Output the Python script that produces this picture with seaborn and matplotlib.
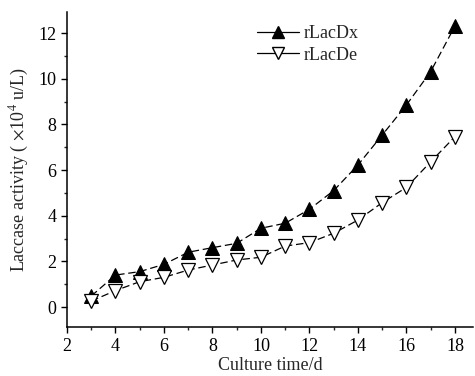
import matplotlib
matplotlib.use("Agg")
import matplotlib.pyplot as plt
from matplotlib.lines import Line2D
from matplotlib.ticker import MultipleLocator
import seaborn as sns

# culture time (days) and laccase activity (x10^4 u/L)
days = [3, 4, 5, 6, 7, 8, 9, 10, 11, 12, 13, 14, 15, 16, 17, 18]
lacdx = [0.48, 1.40, 1.55, 1.87, 2.40, 2.60, 2.79, 3.45, 3.67, 4.28, 5.10, 6.22, 7.53, 8.85, 10.31, 12.30]
lacde = [0.26, 0.72, 1.11, 1.30, 1.62, 1.84, 2.06, 2.18, 2.67, 2.82, 3.23, 3.81, 4.57, 5.24, 6.36, 7.46]
series_names = ["rLacDx", "rLacDe"]

sns.set_style("ticks")
plt.rcParams["font.family"] = ["Liberation Serif", "DejaVu Serif"]
plt.rcParams["mathtext.fontset"] = "stix"
plt.rcParams["font.size"] = 13

fig = plt.figure(figsize=(4.75, 3.76), dpi=100)
ax = fig.add_axes([0.141, 0.130, 0.855, 0.838])

sns.lineplot(x=days, y=lacdx, ax=ax, color="black", linestyle=(0, (6, 3)), linewidth=0.9,
             marker="^", markersize=10, markerfacecolor="black", markeredgecolor="black")
sns.lineplot(x=days, y=lacde, ax=ax, color="black", linestyle=(0, (6, 3)), linewidth=0.9,
             marker="v", markersize=10, markerfacecolor="white", markeredgecolor="black",
             markeredgewidth=0.9)

ax.set_xlim(2, 18.75)
ax.set_ylim(-0.88, 12.92)
ax.xaxis.set_major_locator(MultipleLocator(2))
ax.xaxis.set_minor_locator(MultipleLocator(1))
ax.yaxis.set_major_locator(MultipleLocator(2))
ax.yaxis.set_minor_locator(MultipleLocator(1))
ax.tick_params(which="major", length=4, width=1, labelsize=13, colors="black")
ax.tick_params(which="minor", length=2.5, width=1)
for side in ["top", "right"]:
    ax.spines[side].set_visible(False)
for side in ["left", "bottom"]:
    ax.spines[side].set_linewidth(1.1)
    ax.spines[side].set_color("black")

ax.set_xlabel("Culture time/d", fontsize=13, labelpad=2)
ax.set_ylabel(r"Laccase activity ( $\times$10$^{4}$ u/L)", fontsize=13, labelpad=5)

handles = [
    Line2D([], [], color="black", linewidth=0.9, marker="^", markersize=8,
           markerfacecolor="black", markeredgecolor="black"),
    Line2D([], [], color="black", linewidth=0.9, marker="v", markersize=8,
           markerfacecolor="white", markeredgecolor="black"),
]
ax.legend(handles, series_names, loc="upper left", bbox_to_anchor=(250 / 475, 1 - 18 / 376),
          bbox_transform=fig.transFigure, frameon=False, fontsize=13,
          handlelength=2.3, handletextpad=0.3, labelspacing=0.25, borderaxespad=0)

fig.savefig("out.png", dpi=100)
